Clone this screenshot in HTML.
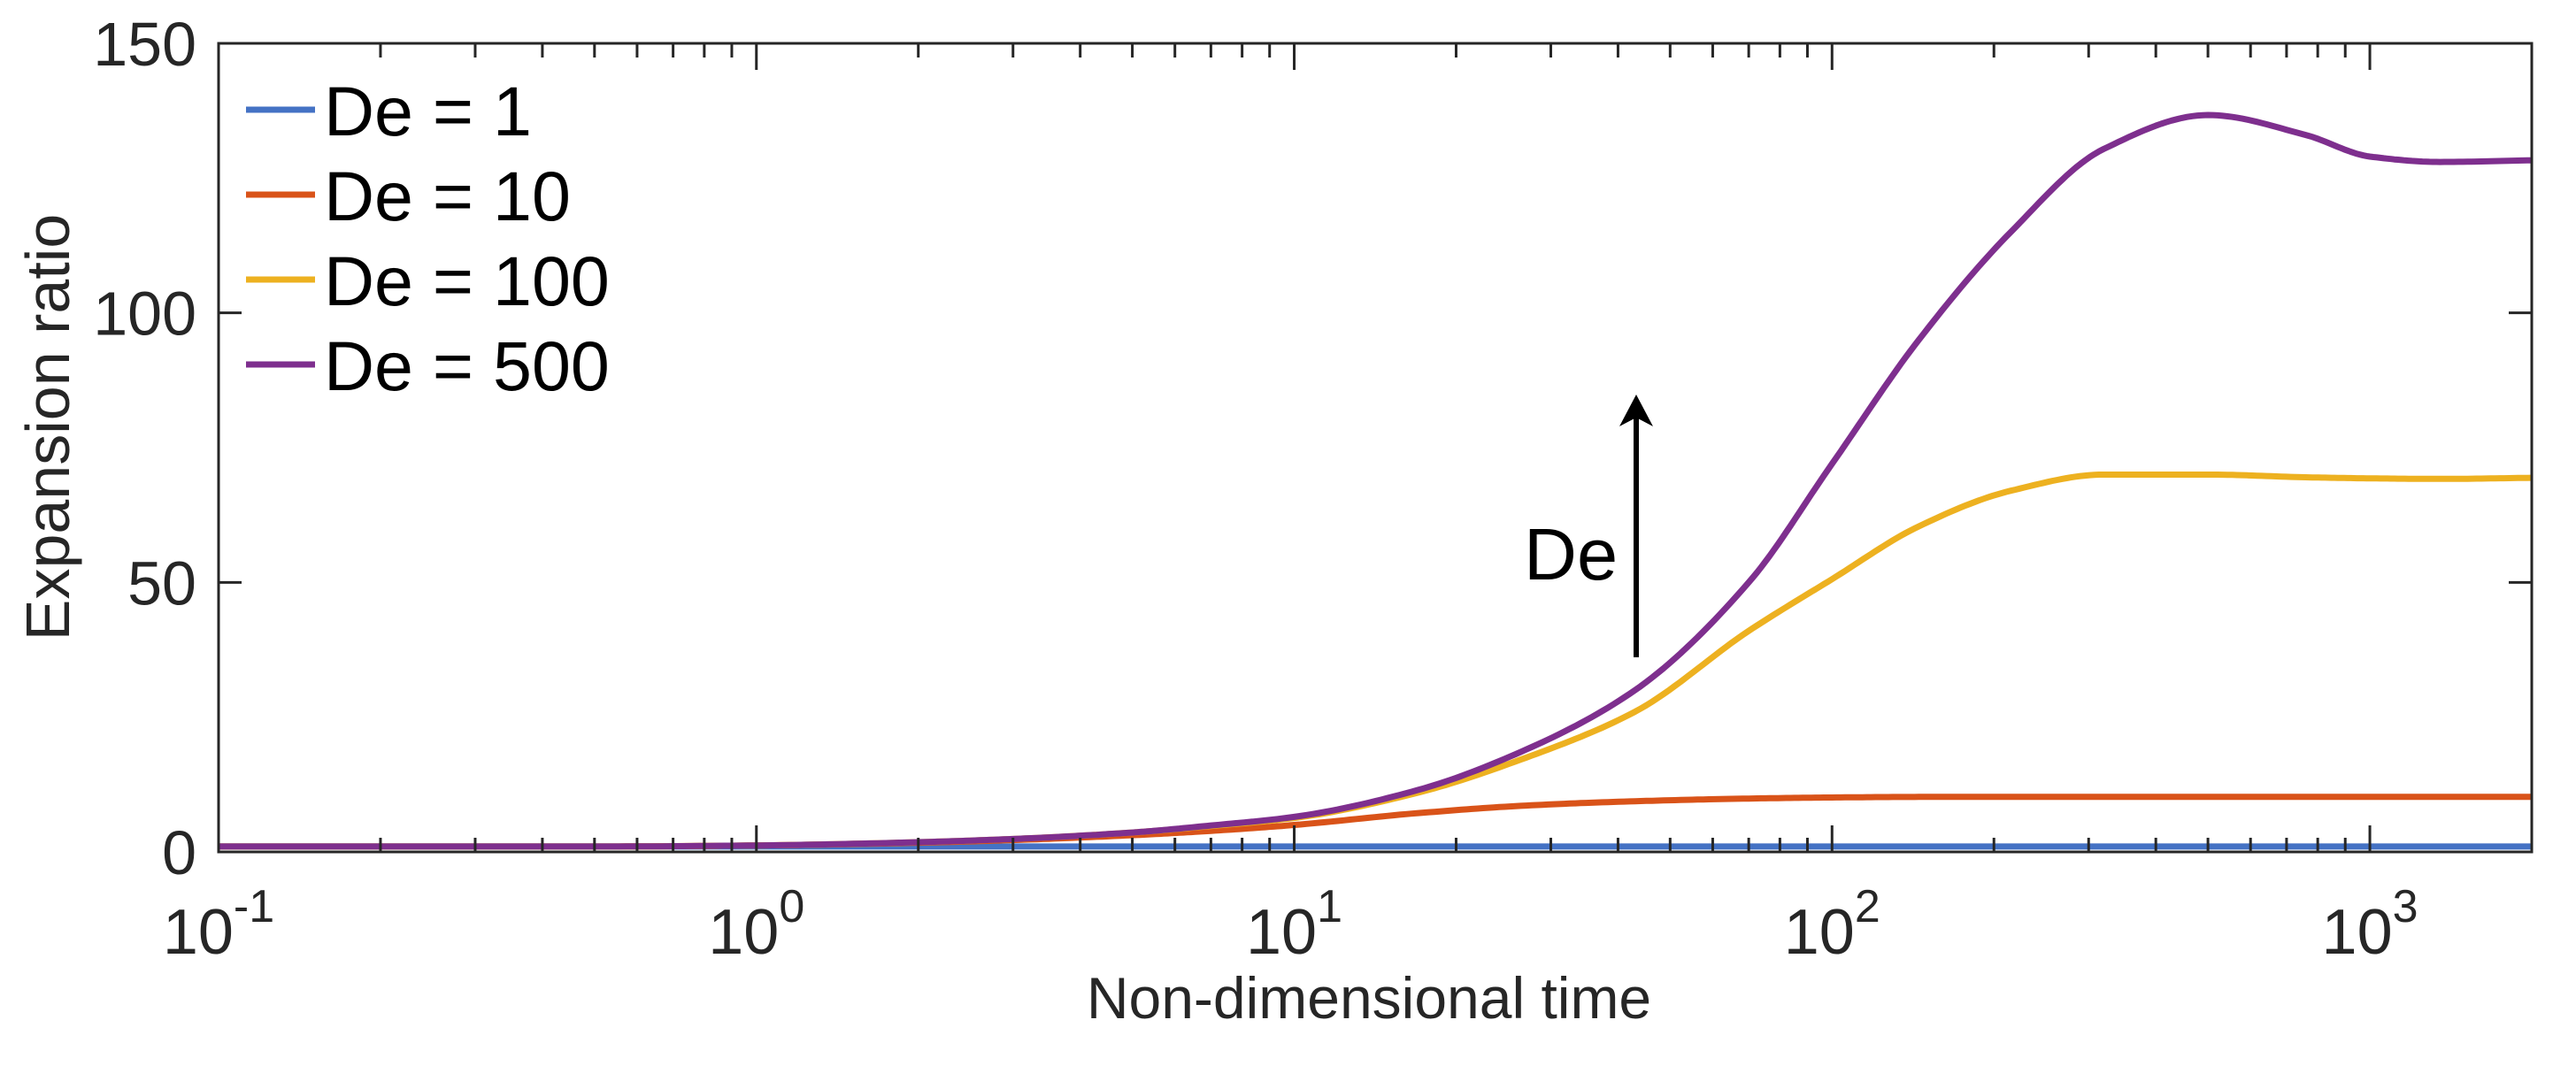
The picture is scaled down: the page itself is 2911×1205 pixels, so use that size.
<!DOCTYPE html>
<html><head><meta charset="utf-8"><style>
html,body{margin:0;padding:0;background:#fff;}
svg{display:block;font-family:"Liberation Sans",Arial,sans-serif;}
</style></head><body>
<svg id="chart" width="2911" height="1205" viewBox="0 0 2911 1205" xmlns="http://www.w3.org/2000/svg">
<rect x="0" y="0" width="2911" height="1205" fill="#fff"/>
<g id="series"></g>
<g id="axes"></g>
<g id="legend"></g>
<text x="1722" y="655" font-size="83" fill="#000">De</text>
<line x1="1849" y1="743" x2="1849" y2="470" stroke="#000" stroke-width="6"/>
<polygon points="1849,446 1830,482 1849,472 1868,482" fill="#000"/>
<text x="1547" y="1151" font-size="66" fill="#262626" text-anchor="middle">Non-dimensional time</text>
<text x="0" y="0" font-size="70" fill="#262626" text-anchor="middle" transform="translate(78,483) rotate(-90)">Expansion ratio</text>
</svg>
<script>
const times = [0.1,0.2,0.5,1,2,3,5,7,10,17,27,43,70,100,145,215,320,500,760,1000,1350,2000];
const de1 = [1,1,1,1,1,1,1,1,1,1,1,1,1,1,1,1,1,1,1,1,1,1];
const de10 = [1,1,1,1.2,1.7,2.2,3.1,3.9,5.0,7.2,8.6,9.4,9.9,10.1,10.2,10.2,10.2,10.2,10.2,10.2,10.2,10.2];
const de100 = [1,1,1,1.2,1.8,2.4,3.6,4.8,6.3,11,17.5,26,41,50.6,60.4,67,70,70,69.5,69.3,69.2,69.4];
const de500 = [1,1,1,1.2,1.8,2.4,3.6,4.9,6.5,11.5,19,30,50,72,95,115,130.4,136.7,133,129,128,128.3];
const seriesNames = ["De = 1","De = 10","De = 100","De = 500"];
const yTicks = [0,50,100,150];
const xDecades = [-1,0,1,2,3];

const NS="http://www.w3.org/2000/svg";
const L=247,R=2861,T=49,B=963;
const xMin=-1,xMax=Math.log10(2000),yMin=0,yMax=150;
function xs(t){return L+(Math.log10(t)-xMin)/(xMax-xMin)*(R-L);}
function ys(v){return B-(v-yMin)/(yMax-yMin)*(B-T);}
function mk(tag,attrs,parent){const e=document.createElementNS(NS,tag);for(const k in attrs)e.setAttribute(k,attrs[k]);parent.appendChild(e);return e;}
const colors=["#4472C4","#D95319","#EDB120","#7E2F8E"];
const data=[de1,de10,de100,de500];
const sg=document.getElementById('series');
function pathFor(vals){
  // monotone cubic (Fritsch-Carlson) in log-x, sampled densely
  const X=times.map(t=>Math.log10(t)), Y=vals, n=X.length;
  const d=[],m=new Array(n);
  for(let i=0;i<n-1;i++)d.push((Y[i+1]-Y[i])/(X[i+1]-X[i]));
  m[0]=d[0];m[n-1]=d[n-2];
  for(let i=1;i<n-1;i++){
    if(d[i-1]*d[i]<=0)m[i]=0;
    else{const w1=2*(X[i+1]-X[i])+(X[i]-X[i-1]),w2=(X[i+1]-X[i])+2*(X[i]-X[i-1]);m[i]=(w1+w2)/(w1/d[i-1]+w2/d[i]);}
  }
  let s="";
  for(let i=0;i<n-1;i++){
    const h=X[i+1]-X[i];
    for(let k=0;k<=20;k++){
      if(i>0&&k===0)continue;
      const u=k/20,h00=2*u*u*u-3*u*u+1,h10=u*u*u-2*u*u+u,h01=-2*u*u*u+3*u*u,h11=u*u*u-u*u;
      const y=h00*Y[i]+h10*h*m[i]+h01*Y[i+1]+h11*h*m[i+1];
      const x=X[i]+u*h;
      const px=L+(x-xMin)/(xMax-xMin)*(R-L), py=ys(y);
      s+=(s?" L":"M")+px.toFixed(1)+","+py.toFixed(1);
    }
  }
  return s;
}
data.forEach((vals,i)=>{
  const el=mk('path',{d:pathFor(vals),fill:'none',stroke:colors[i],'stroke-width':7,'stroke-linejoin':'round'},sg);
  
  
});
const ag=document.getElementById('axes');
const box=mk('rect',{x:L,y:T,width:R-L,height:B-T,fill:'none',stroke:'#262626','stroke-width':3},ag);


yTicks.forEach(v=>{
  const y=ys(v);
  const t1=mk('line',{x1:L,y1:y,x2:L+26,y2:y,stroke:'#262626','stroke-width':3},ag);
  
  
  const t2=mk('line',{x1:R,y1:y,x2:R-26,y2:y,stroke:'#262626','stroke-width':3},ag);
  
  
  const tx=mk('text',{x:222,y:y+25,'font-size':70,fill:'#262626','text-anchor':'end'},ag);
  tx.textContent=String(v);
  
  
});
xDecades.forEach(e=>{
  for(let m=1;m<10;m++){
    const t=m*Math.pow(10,e);
    if(t>2000.001)break;
    const x=xs(t),len=m===1?30:16;
    const a=mk('line',{x1:x,y1:B,x2:x,y2:B-len,stroke:'#262626','stroke-width':3},ag);
    
    
    const b=mk('line',{x1:x,y1:T,x2:x,y2:T+len,stroke:'#262626','stroke-width':3},ag);
    
    
  }
  const x=xs(Math.pow(10,e));
  const tx=mk('text',{x:x,y:1078,'font-size':72,fill:'#262626','text-anchor':'middle'},ag);
  
  
  const base=document.createElementNS(NS,'tspan');base.textContent='10';tx.appendChild(base);
  const sup=document.createElementNS(NS,'tspan');sup.setAttribute('font-size','52');sup.setAttribute('dy','-36');sup.textContent=String(e);tx.appendChild(sup);
});
const lg=document.getElementById('legend');
seriesNames.forEach((n,i)=>{
  const by=153+i*96;
  const ln=mk('line',{x1:278,y1:by-29,x2:356,y2:by-29,stroke:colors[i],'stroke-width':7},lg);
  
  
  const tx=mk('text',{x:366,y:by,'font-size':79,fill:'#000'},lg);
  tx.textContent=n;
  
  
});
</script>
</body></html>
